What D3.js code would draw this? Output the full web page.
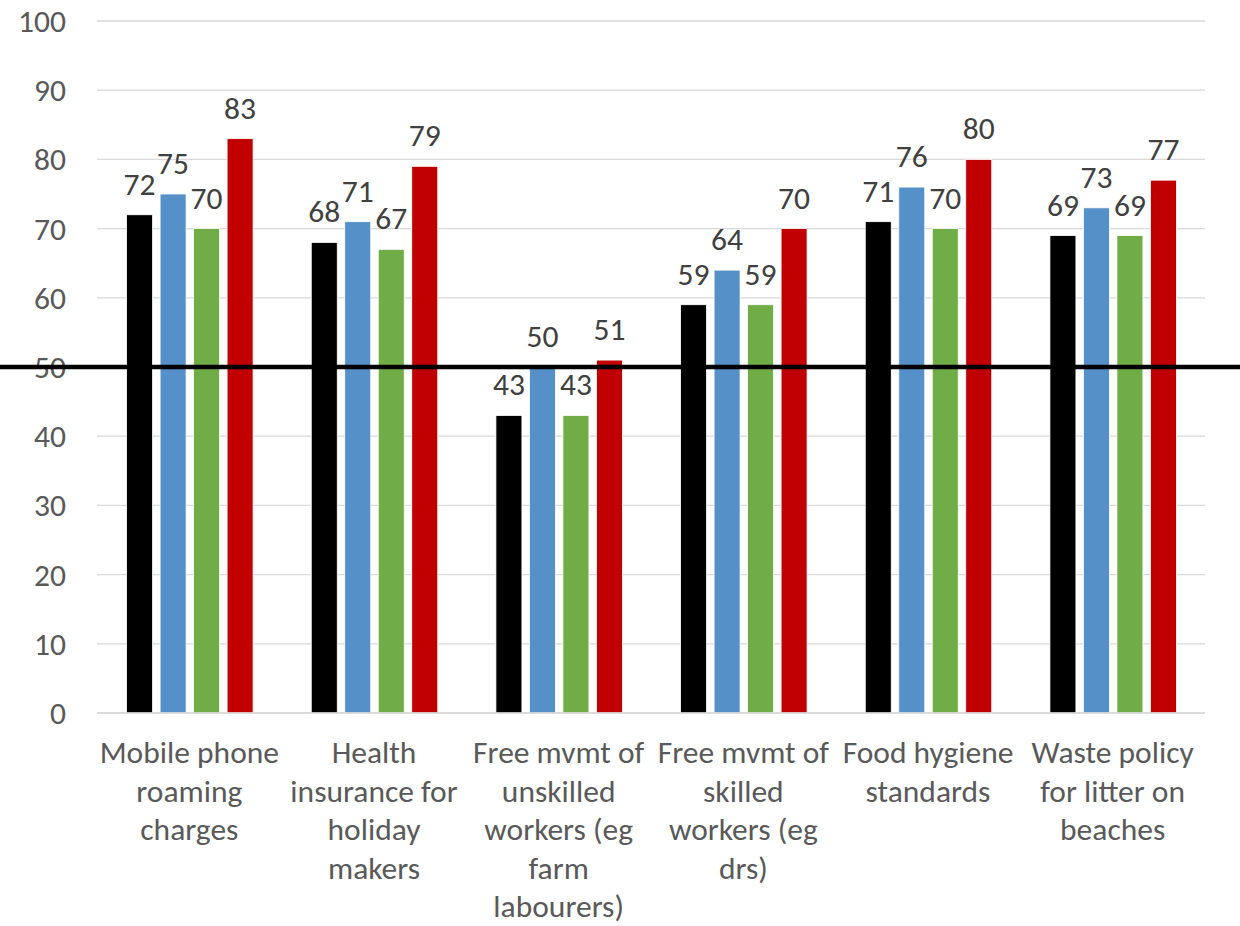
<!DOCTYPE html>
<html><head><meta charset="utf-8">
<script src="https://cdn.jsdelivr.net/npm/d3@7"></script>
<style>body{margin:0;background:#fff}svg{display:block}</style>
</head><body>
<svg id="c" width="1240" height="926"></svg>
<script>
const categories = ["Mobile phone roaming charges","Health insurance for holiday makers","Free mvmt of unskilled workers (eg farm labourers)","Free mvmt of skilled workers (eg drs)","Food hygiene standards","Waste policy for litter on beaches"];
const categoryLines = [
  ["Mobile phone","roaming","charges"],
  ["Health","insurance for","holiday","makers"],
  ["Free mvmt of","unskilled","workers (eg","farm","labourers)"],
  ["Free mvmt of","skilled","workers (eg","drs)"],
  ["Food hygiene","standards"],
  ["Waste policy","for litter on","beaches"]
];
const seriesColors = ["#000000","#5590C8","#70AD47","#C00000"];
const s1 = [72,68,43,59,71,69];
const s2 = [75,71,50,64,76,73];
const s3 = [70,67,43,59,70,69];
const s4 = [83,79,51,70,80,77];
const seriesValues = [s1,s2,s3,s4];
const yTicks = [0,10,20,30,40,50,60,70,80,90,100];
const referenceValue = 50;

(function(){
const font = "Carlito, Calibri, 'Open Sans', sans-serif";
const fs = 31.5;
const svg = d3.select("#c");
const mLeft = 97, mRight = 1205, mTop = 21, mBottom = 713;
const x = d3.scaleBand().domain(d3.range(categories.length)).range([mLeft,mRight]);
const y = d3.scaleLinear().domain([0,100]).range([mBottom,mTop]);
const barW = 26, barStep = 33.5;
const xs = d3.scaleBand().domain(d3.range(4)).range([0, barStep*4]);

svg.append("g").selectAll("line").data(yTicks).join("line")
  .attr("x1",mLeft).attr("x2",mRight)
  .attr("y1",d=>y(d)).attr("y2",d=>y(d))
  .attr("stroke","#D9D9D9").attr("stroke-width",1.3);

svg.append("g").selectAll("text").data(yTicks).join("text")
  .attr("x",66).attr("y",d=>y(d)).attr("dy","0.35em")
  .attr("text-anchor","end").attr("font-family",font).attr("font-size",fs)
  .attr("fill","#595959").text(d=>d);

const groups = svg.append("g").selectAll("g").data(categories).join("g")
  .attr("transform",(d,i)=>`translate(${x(i)+x.bandwidth()/2 - barStep*2 + (barStep-barW)/2 + 0.5},0)`);
groups.each(function(c,i){
  const g = d3.select(this);
  seriesValues.forEach((vals,k)=>{
    g.append("rect").attr("x",xs(k)).attr("width",barW)
      .attr("y",y(vals[i])).attr("height",y(0)-y(vals[i]))
      .attr("fill",seriesColors[k]).attr("stroke","#fff").attr("stroke-width",0.8);
    g.append("text").attr("x",xs(k)+barW/2).attr("y",y(vals[i])-20)
      .attr("text-anchor","middle").attr("font-family",font).attr("font-size",fs)
      .attr("fill","#404040").text(vals[i]);
  });
});

svg.append("line").attr("x1",mLeft).attr("x2",mRight).attr("y1",y(0)).attr("y2",y(0))
  .attr("stroke","#D9D9D9").attr("stroke-width",1.5);

const cl = svg.append("g").selectAll("text").data(categoryLines).join("text")
  .attr("text-anchor","middle").attr("font-family",font).attr("font-size",fs)
  .attr("fill","#595959")
  .attr("transform",(d,i)=>`translate(${x(i)+x.bandwidth()/2},763)`);
cl.selectAll("tspan").data(d=>d).join("tspan")
  .attr("x",0).attr("y",(d,j)=>j*38.5).text(d=>d);

svg.append("line").attr("x1",0).attr("x2",1240)
  .attr("y1",y(referenceValue)).attr("y2",y(referenceValue))
  .attr("stroke","#000").attr("stroke-width",4.5);
})();
</script>
</body></html>
